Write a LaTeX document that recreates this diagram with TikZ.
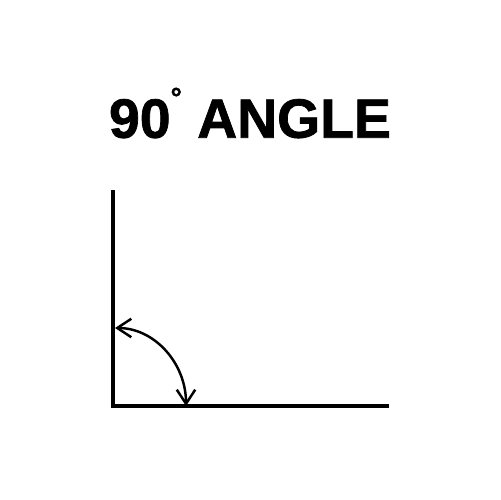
\documentclass[tikz,border=0pt]{standalone}
\usepackage{fontspec}
\setmainfont{Liberation Sans}
\newfontfamily\titlefont[BoldFeatures={FakeBold=1.3}]{Liberation Sans}
\usetikzlibrary{arrows.meta}

\tikzset{
    axisline/.style={line width=2.5pt, line cap=rect},
    anglearc/.style={line width=1.4pt, {Straight Barb[length=8pt,width=10.5pt]}-{Straight Barb[length=8pt,width=10.5pt]}},
    titletext/.style={font=\titlefont\fontsize{31.5}{31.5}\selectfont\bfseries}
}

\begin{document}
\begin{tikzpicture}[x=0.02cm,y=0.02cm]
    \useasboundingbox[fill=white] (0,0) rectangle (500,500);

    % draw title
    \node[titletext] (title) at (250,387) {90\raisebox{0.55em}{\fontsize{16}{16}\selectfont °} ANGLE};

    % draw the two legs
    \coordinate (corner) at (113,94);
    \coordinate (top) at (113,308);
    \coordinate (right) at (387,94);
    \draw[axisline] (top) -- (corner) -- (right);

    % draw the angle arc
    \coordinate (arcstart) at (115,172);
    \draw[anglearc] (arcstart) arc[start angle=90, end angle=0, x radius=71, y radius=78] coordinate (arcend);
\end{tikzpicture}
\end{document}
